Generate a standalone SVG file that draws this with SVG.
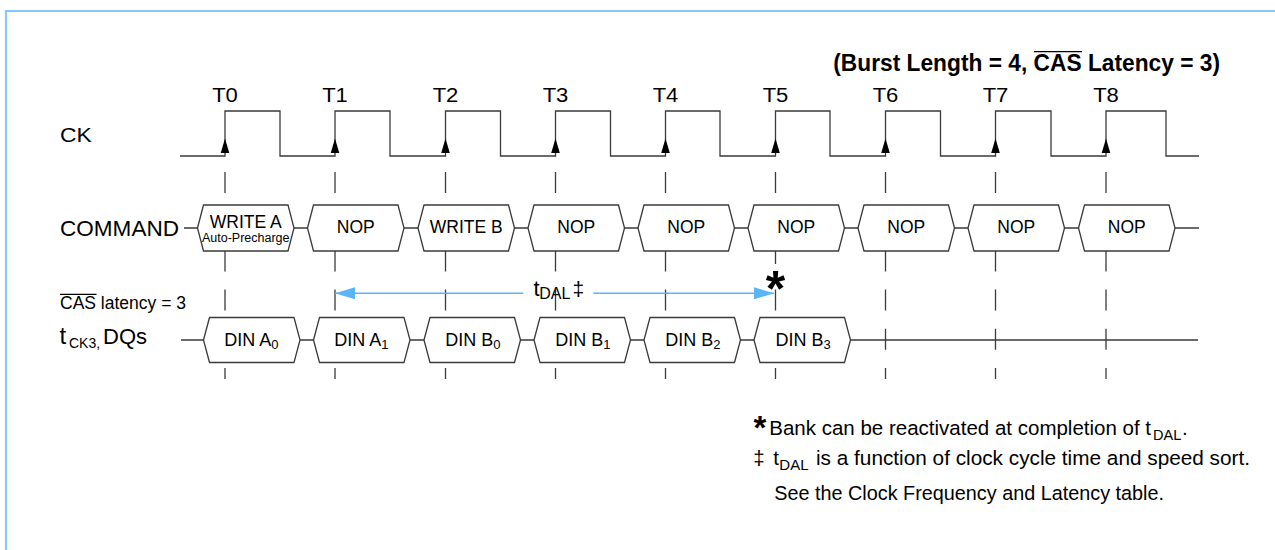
<svg xmlns="http://www.w3.org/2000/svg" width="1275" height="550" viewBox="0 0 1275 550">
<style>
text{font-family:"Liberation Sans",Arial,Helvetica,sans-serif;fill:#000}
.wave{fill:none;stroke:#3a3a3a;stroke-width:1.3}
.box{fill:#fff;stroke:#3a3a3a;stroke-width:1.3}
.dash{fill:none;stroke:#3a3a3a;stroke-width:1.3;stroke-dasharray:21 18.2}
.bus{fill:none;stroke:#3a3a3a;stroke-width:1.3}
.tl{font-size:20px;text-anchor:middle}
.cmd{font-size:17.5px;text-anchor:middle}
.din{font-size:18px}
.sub{font-size:13px}
.note{font-size:20.5px}
.blue{stroke:#5ab4f5;stroke-width:1.5;fill:none}
.ov{stroke:#000;stroke-width:1.3}
</style>
<defs>
<marker id="ah" viewBox="0 0 20 12" refX="20" refY="6" markerWidth="20" markerHeight="12" markerUnits="userSpaceOnUse" orient="auto-start-reverse">
<path d="M0,0 L20,6 L0,12 Z" fill="#5ab4f5"/>
</marker>
<path id="ckarr" d="M0,-17.5 L-4.3,-3 L4.3,-3 Z" fill="#000"/>
</defs>
<rect width="1275" height="550" fill="#fff"/>
<g id="frame">
<path d="M6,550 V11 H1275" fill="none" stroke="#84c8ff" stroke-width="2.2"/>
</g>
<g id="title">
<text x="833.3" y="71" font-size="23" font-weight="bold" textLength="386.7" lengthAdjust="spacingAndGlyphs">(Burst Length = 4, CAS Latency = 3)</text>
<line class="ov" x1="1034" y1="51.7" x2="1082" y2="51.7"/>
</g>
<g id="signal-labels">
<text x="60" y="142" font-size="20" textLength="31.7" lengthAdjust="spacingAndGlyphs">CK</text>
<text x="60" y="236" font-size="22.5" textLength="119" lengthAdjust="spacingAndGlyphs">COMMAND</text>
<text x="60" y="309" font-size="17.5">CAS latency = 3</text>
<line class="ov" x1="60" y1="294.3" x2="96.5" y2="294.3"/>
<text y="343.5" font-size="22"><tspan x="59.5" font-size="24">t</tspan><tspan x="69" y="347.5" font-size="14">CK3,</tspan><tspan x="103" y="343.5">DQs</tspan></text>
</g>
<g id="clock">
<path class="wave" d="M180,156 H225 V111 H280 V156 H335 V111 H390 V156 H445.5 V111 H500.5 V156 H555.5 V111 H610.5 V156 H665.5 V111 H720 V156 H775.5 V111 H830 V156 H885.5 V111 H940.5 V156 H995.5 V111 H1051 V156 H1106 V111 H1166 V156 H1199"/>
<use href="#ckarr" x="225" y="156"/>
<use href="#ckarr" x="335" y="156"/>
<use href="#ckarr" x="445.5" y="156"/>
<use href="#ckarr" x="555.5" y="156"/>
<use href="#ckarr" x="665.5" y="156"/>
<use href="#ckarr" x="775.5" y="156"/>
<use href="#ckarr" x="885.5" y="156"/>
<use href="#ckarr" x="995.5" y="156"/>
<use href="#ckarr" x="1106" y="156"/>
<text class="tl" x="225" y="102" textLength="25.7" lengthAdjust="spacingAndGlyphs">T0</text>
<text class="tl" x="335" y="102" textLength="25.7" lengthAdjust="spacingAndGlyphs">T1</text>
<text class="tl" x="445.5" y="102" textLength="25.7" lengthAdjust="spacingAndGlyphs">T2</text>
<text class="tl" x="555.5" y="102" textLength="25.7" lengthAdjust="spacingAndGlyphs">T3</text>
<text class="tl" x="665.5" y="102" textLength="25.7" lengthAdjust="spacingAndGlyphs">T4</text>
<text class="tl" x="775.5" y="102" textLength="25.7" lengthAdjust="spacingAndGlyphs">T5</text>
<text class="tl" x="885.5" y="102" textLength="25.7" lengthAdjust="spacingAndGlyphs">T6</text>
<text class="tl" x="995.5" y="102" textLength="25.7" lengthAdjust="spacingAndGlyphs">T7</text>
<text class="tl" x="1106" y="102" textLength="25.7" lengthAdjust="spacingAndGlyphs">T8</text>
</g>
<g id="connectors">
<g id="timing-lines">
<line class="dash" x1="225" y1="172" x2="225" y2="379"/>
<line class="dash" x1="335" y1="172" x2="335" y2="379"/>
<line class="dash" x1="445.5" y1="172" x2="445.5" y2="379"/>
<line class="dash" x1="555.5" y1="172" x2="555.5" y2="379"/>
<line class="dash" x1="665.5" y1="172" x2="665.5" y2="379"/>
<line class="dash" x1="775.5" y1="172" x2="775.5" y2="264"/>
<line class="dash" x1="775.5" y1="289.6" x2="775.5" y2="379"/>
<line class="dash" x1="885.5" y1="172" x2="885.5" y2="379"/>
<line class="dash" x1="995.5" y1="172" x2="995.5" y2="379"/>
<line class="dash" x1="1106" y1="172" x2="1106" y2="379"/>
</g>
<g id="command-bus">
<path class="bus" d="M184,228 H197.5 M294,228 H307.5 M404,228 H418 M514.5,228 H528 M624.5,228 H638 M734.5,228 H748 M844.5,228 H858 M954.5,228 H968 M1064.5,228 H1078.5 M1175,228 H1199"/>
</g>
<g id="dq-bus">
<path class="bus" d="M181,340 H203.5 M300,340 H313.5 M410,340 H424 M520.5,340 H534 M630.5,340 H644 M740.5,340 H754 M850.5,340 H1198"/>
</g>
<g id="tdal">
<line class="blue" x1="335" y1="293.3" x2="523.3" y2="293.3" marker-start="url(#ah)"/>
<line class="blue" x1="593.3" y1="293.3" x2="774" y2="293.3" marker-end="url(#ah)"/>
<text y="295.5" font-size="21"><tspan x="533.5" font-size="22">t</tspan><tspan x="539.3" y="299" font-size="16">DAL</tspan><tspan x="572.5" y="295.5">‡</tspan></text>
</g>
</g>
<g id="cmd-t0"><polygon class="box" points="197.5,228 203.5,205 288,205 294,228 288,251 203.5,251"/><text class="cmd"><tspan x="245.75" y="228.3">WRITE A</tspan><tspan x="245.75" y="241.7" font-size="12.5">Auto-Precharge</tspan></text></g>
<g id="cmd-t1"><polygon class="box" points="307.5,228 313.5,205 398,205 404,228 398,251 313.5,251"/><text class="cmd" x="355.75" y="233.3">NOP</text></g>
<g id="cmd-t2"><polygon class="box" points="418,228 424,205 508.5,205 514.5,228 508.5,251 424,251"/><text class="cmd" x="466.25" y="233.3" textLength="73" lengthAdjust="spacingAndGlyphs">WRITE B</text></g>
<g id="cmd-t3"><polygon class="box" points="528,228 534,205 618.5,205 624.5,228 618.5,251 534,251"/><text class="cmd" x="576.25" y="233.3">NOP</text></g>
<g id="cmd-t4"><polygon class="box" points="638,228 644,205 728.5,205 734.5,228 728.5,251 644,251"/><text class="cmd" x="686.25" y="233.3">NOP</text></g>
<g id="cmd-t5"><polygon class="box" points="748,228 754,205 838.5,205 844.5,228 838.5,251 754,251"/><text class="cmd" x="796.25" y="233.3">NOP</text></g>
<g id="cmd-t6"><polygon class="box" points="858,228 864,205 948.5,205 954.5,228 948.5,251 864,251"/><text class="cmd" x="906.25" y="233.3">NOP</text></g>
<g id="cmd-t7"><polygon class="box" points="968,228 974,205 1058.5,205 1064.5,228 1058.5,251 974,251"/><text class="cmd" x="1016.25" y="233.3">NOP</text></g>
<g id="cmd-t8"><polygon class="box" points="1078.5,228 1084.5,205 1169,205 1175,228 1169,251 1084.5,251"/><text class="cmd" x="1126.75" y="233.3">NOP</text></g>
<g id="dq-t0"><polygon class="box" points="203.5,340 209.5,317.5 294,317.5 300,340 294,362.5 209.5,362.5"/><text class="din" x="224.3" y="345.5">DIN A<tspan class="sub" dy="3">0</tspan></text></g>
<g id="dq-t1"><polygon class="box" points="313.5,340 319.5,317.5 404,317.5 410,340 404,362.5 319.5,362.5"/><text class="din" x="334.3" y="345.5">DIN A<tspan class="sub" dy="3">1</tspan></text></g>
<g id="dq-t2"><polygon class="box" points="424,340 430,317.5 514.5,317.5 520.5,340 514.5,362.5 430,362.5"/><text class="din" x="445.3" y="345.5">DIN B<tspan class="sub" dy="3">0</tspan></text></g>
<g id="dq-t3"><polygon class="box" points="534,340 540,317.5 624.5,317.5 630.5,340 624.5,362.5 540,362.5"/><text class="din" x="555.3" y="345.5">DIN B<tspan class="sub" dy="3">1</tspan></text></g>
<g id="dq-t4"><polygon class="box" points="644,340 650,317.5 734.5,317.5 740.5,340 734.5,362.5 650,362.5"/><text class="din" x="665.3" y="345.5">DIN B<tspan class="sub" dy="3">2</tspan></text></g>
<g id="dq-t5"><polygon class="box" points="754,340 760,317.5 844.5,317.5 850.5,340 844.5,362.5 760,362.5"/><text class="din" x="775.5" y="345.5">DIN B<tspan class="sub" dy="3">3</tspan></text></g>
<g id="asterisk">
<text x="775.5" y="306" font-size="50" font-weight="bold" text-anchor="middle">*</text>
</g>
<g id="notes">
<text y="435"><tspan x="753.5" y="438.5" font-size="33" font-weight="bold">*</tspan><tspan class="note" x="769.3" y="435">Bank can be reactivated at completion of t</tspan></text>
<text x="1153" y="440" font-size="14.5">DAL</text>
<text class="note" x="1182" y="435">.</text>
<text class="note" y="465"><tspan x="753.3">‡</tspan><tspan x="773.3">t</tspan><tspan x="779.3" y="469.5" font-size="15">DAL</tspan></text>
<text class="note" x="816" y="465" textLength="434" lengthAdjust="spacingAndGlyphs">is a function of clock cycle time and speed sort.</text>
<text class="note" x="774.3" y="500" font-size="20" textLength="389.7" lengthAdjust="spacingAndGlyphs">See the Clock Frequency and Latency table.</text>
</g>
</svg>
